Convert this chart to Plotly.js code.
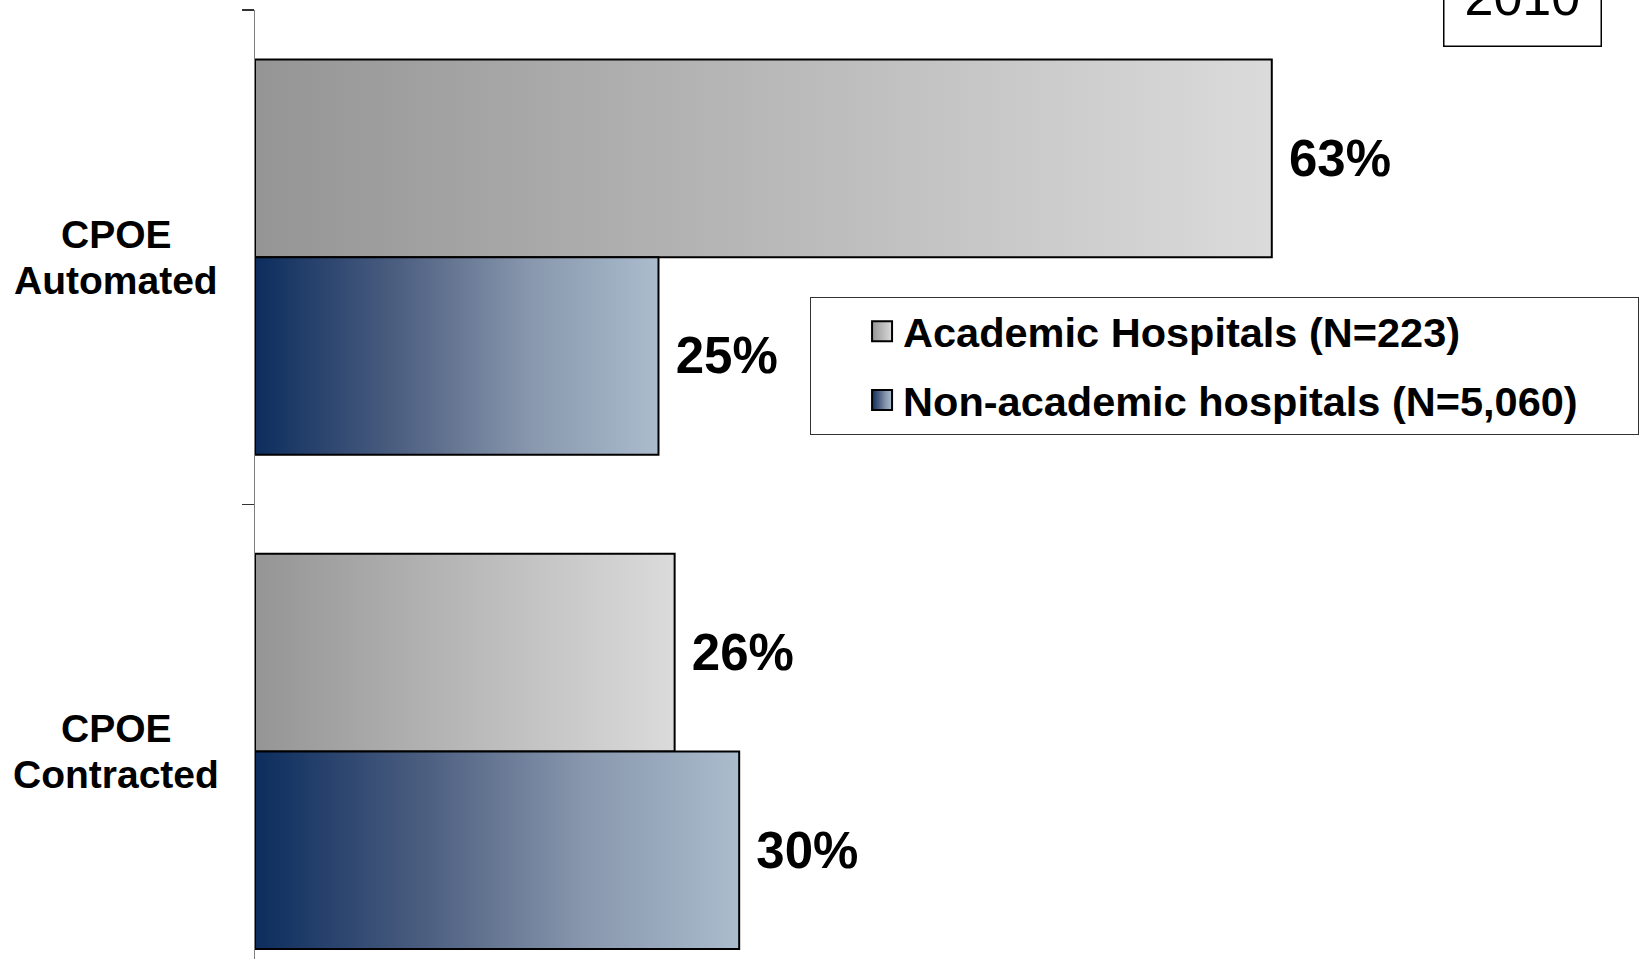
<!DOCTYPE html>
<html>
<head>
<meta charset="utf-8">
<script src="https://cdn.plot.ly/plotly-3.0.1.min.js"></script>
<style>
  html, body { margin: 0; padding: 0; background: #ffffff; overflow: hidden; }
  #chart { width: 1643px; height: 959px; }
</style>
</head>
<body>
<div id="chart"></div>
<script>
// ---- data ----
const categories = ['CPOE Automated', 'CPOE Contracted'];
const categoryLabelLines = [['CPOE', 'Automated'], ['CPOE', 'Contracted']];
const seriesNames = ['Academic Hospitals (N=223)', 'Non-academic hospitals (N=5,060)'];
const academicValues = [63, 26];
const nonAcademicValues = [25, 30];
const yearLabel = '2010';

// ---- styles ----
const FONT = '"Liberation Sans", Arial, Helvetica, sans-serif';
const LABEL_LINE_GAP = 46; // px between the two lines of a category label
const gradients = {
  gradAcademic: [[0, '#959595'], [0.5, '#b8b8b8'], [1, '#dbdbdb']],
  gradNonAcademic: [[0, '#0c2d5e'], [0.35, '#4c5e80'], [0.68, '#8897ad'], [1, '#abbccd']]
};
const gradientFor = {};

function pctLabels(values) {
  return values.map(v => '\u00a0' + v + '%');
}

function barTrace(name, group, values, fallback) {
  return {
    type: 'bar',
    orientation: 'h',
    name: name,
    legendgroup: group,
    y: categories,
    x: values,
    text: pctLabels(values),
    textposition: 'outside',
    constraintext: 'none',
    cliponaxis: false,
    textfont: { family: FONT, size: 51, weight: 700, color: '#000000' },
    marker: { color: fallback, line: { color: '#000000', width: 2 } },
    hoverinfo: 'skip'
  };
}

const data = [
  barTrace(seriesNames[0], 'academic', academicValues, '#b8b8b8'),
  // trailing spaces widen the legend frame on the right
  barTrace(seriesNames[1] + '\u00a0\u00a0\u00a0\u00a0\u2009', 'nonacademic', nonAcademicValues, '#6b7b96')
];
gradientFor[data[0].name] = 'gradAcademic';
gradientFor[data[1].name] = 'gradNonAcademic';

const annotations = [];
categories.forEach((c, i) => {
  const lines = categoryLabelLines[i];
  lines.forEach((line, j) => {
    annotations.push({
      xref: 'paper', yref: 'y',
      x: -0.1, y: c,
      xanchor: 'center', yanchor: 'middle', align: 'center',
      yshift: ((lines.length - 1) / 2 - j) * LABEL_LINE_GAP,
      showarrow: false,
      text: line,
      font: { family: FONT, size: 39, weight: 700, color: '#000000' }
    });
  });
});

annotations.push({
  xref: 'paper', yref: 'paper',
  x: 0.9135, y: 0.961,
  xanchor: 'center', yanchor: 'bottom',
  showarrow: false,
  text: yearLabel,
  font: { family: FONT, size: 52, color: '#000000' },
  bordercolor: '#000000', borderwidth: 1.5, borderpad: 20,
  bgcolor: '#ffffff'
});

const layout = {
  width: 1643,
  height: 959,
  margin: { l: 255, r: 0, t: 10, b: 0, autoexpand: false },
  paper_bgcolor: '#ffffff',
  plot_bgcolor: '#ffffff',
  barmode: 'group',
  bargap: 0.2,
  bargroupgap: 0,
  showlegend: true,
  legend: {
    x: 0.3999, y: 0.6979, xanchor: 'left', yanchor: 'top',
    bgcolor: '#ffffff', bordercolor: '#333333', borderwidth: 1,
    font: { family: FONT, size: 41.5, weight: 700, color: '#000000' },
    traceorder: 'grouped', tracegroupgap: 12,
    itemwidth: 82, itemclick: false, itemdoubleclick: false
  },
  xaxis: {
    range: [0, 86],
    visible: false,
    showgrid: false, zeroline: false, fixedrange: true
  },
  yaxis: {
    type: 'category',
    categoryorder: 'array',
    categoryarray: categories,
    range: [1.42, -0.5],
    showline: true, linecolor: '#808080', linewidth: 1.5,
    ticks: 'outside', tickson: 'boundaries', ticklen: 12,
    tickcolor: '#333333', tickwidth: 1.5,
    showticklabels: false, showgrid: false, zeroline: false, fixedrange: true
  },
  annotations: annotations,
  font: { family: FONT, color: '#000000' }
};

function addGradients(gd) {
  const svg = gd.querySelector('svg.main-svg');
  if (!svg) return;
  const ns = 'http://www.w3.org/2000/svg';
  let defs = svg.querySelector('defs#bar-gradients');
  if (!defs) {
    defs = document.createElementNS(ns, 'defs');
    defs.setAttribute('id', 'bar-gradients');
    Object.keys(gradients).forEach(id => {
      const lg = document.createElementNS(ns, 'linearGradient');
      lg.setAttribute('id', id);
      lg.setAttribute('x1', '0'); lg.setAttribute('y1', '0');
      lg.setAttribute('x2', '1'); lg.setAttribute('y2', '0');
      gradients[id].forEach(([off, col]) => {
        const s = document.createElementNS(ns, 'stop');
        s.setAttribute('offset', off);
        s.setAttribute('stop-color', col);
        lg.appendChild(s);
      });
      defs.appendChild(lg);
    });
    svg.insertBefore(defs, svg.firstChild);
  }
  // bars
  gd.querySelectorAll('.barlayer .trace.bars').forEach(g => {
    const cd = g.__data__;
    const name = cd && cd[0] && cd[0].trace ? cd[0].trace.name : null;
    const id = gradientFor[name];
    if (!id) return;
    g.querySelectorAll('.point path').forEach(p => { p.style.fill = 'url(#' + id + ')'; });
  });
  // legend swatches
  gd.querySelectorAll('.legend .traces').forEach(g => {
    const cd = g.__data__;
    const name = cd && cd[0] && cd[0].trace ? cd[0].trace.name : null;
    const id = gradientFor[name];
    const text = g.querySelector('text.legendtext');
    const tx = text ? parseFloat(text.getAttribute('x')) || 0 : 40;
    g.querySelectorAll('.legendpoints path').forEach(p => {
      p.setAttribute('d', 'M10,10H-10V-10H10Z');
      p.setAttribute('transform', 'translate(' + (tx - 21) + ',0)');
      if (id) p.style.fill = 'url(#' + id + ')';
      p.style.stroke = '#000000';
      p.style.strokeWidth = '2px';
    });
  });
}

const gd = document.getElementById('chart');
Plotly.newPlot(gd, data, layout, { displayModeBar: false, staticPlot: true }).then(() => {
  addGradients(gd);
  gd.on && gd.on('plotly_afterplot', () => addGradients(gd));
});
</script>
</body>
</html>
